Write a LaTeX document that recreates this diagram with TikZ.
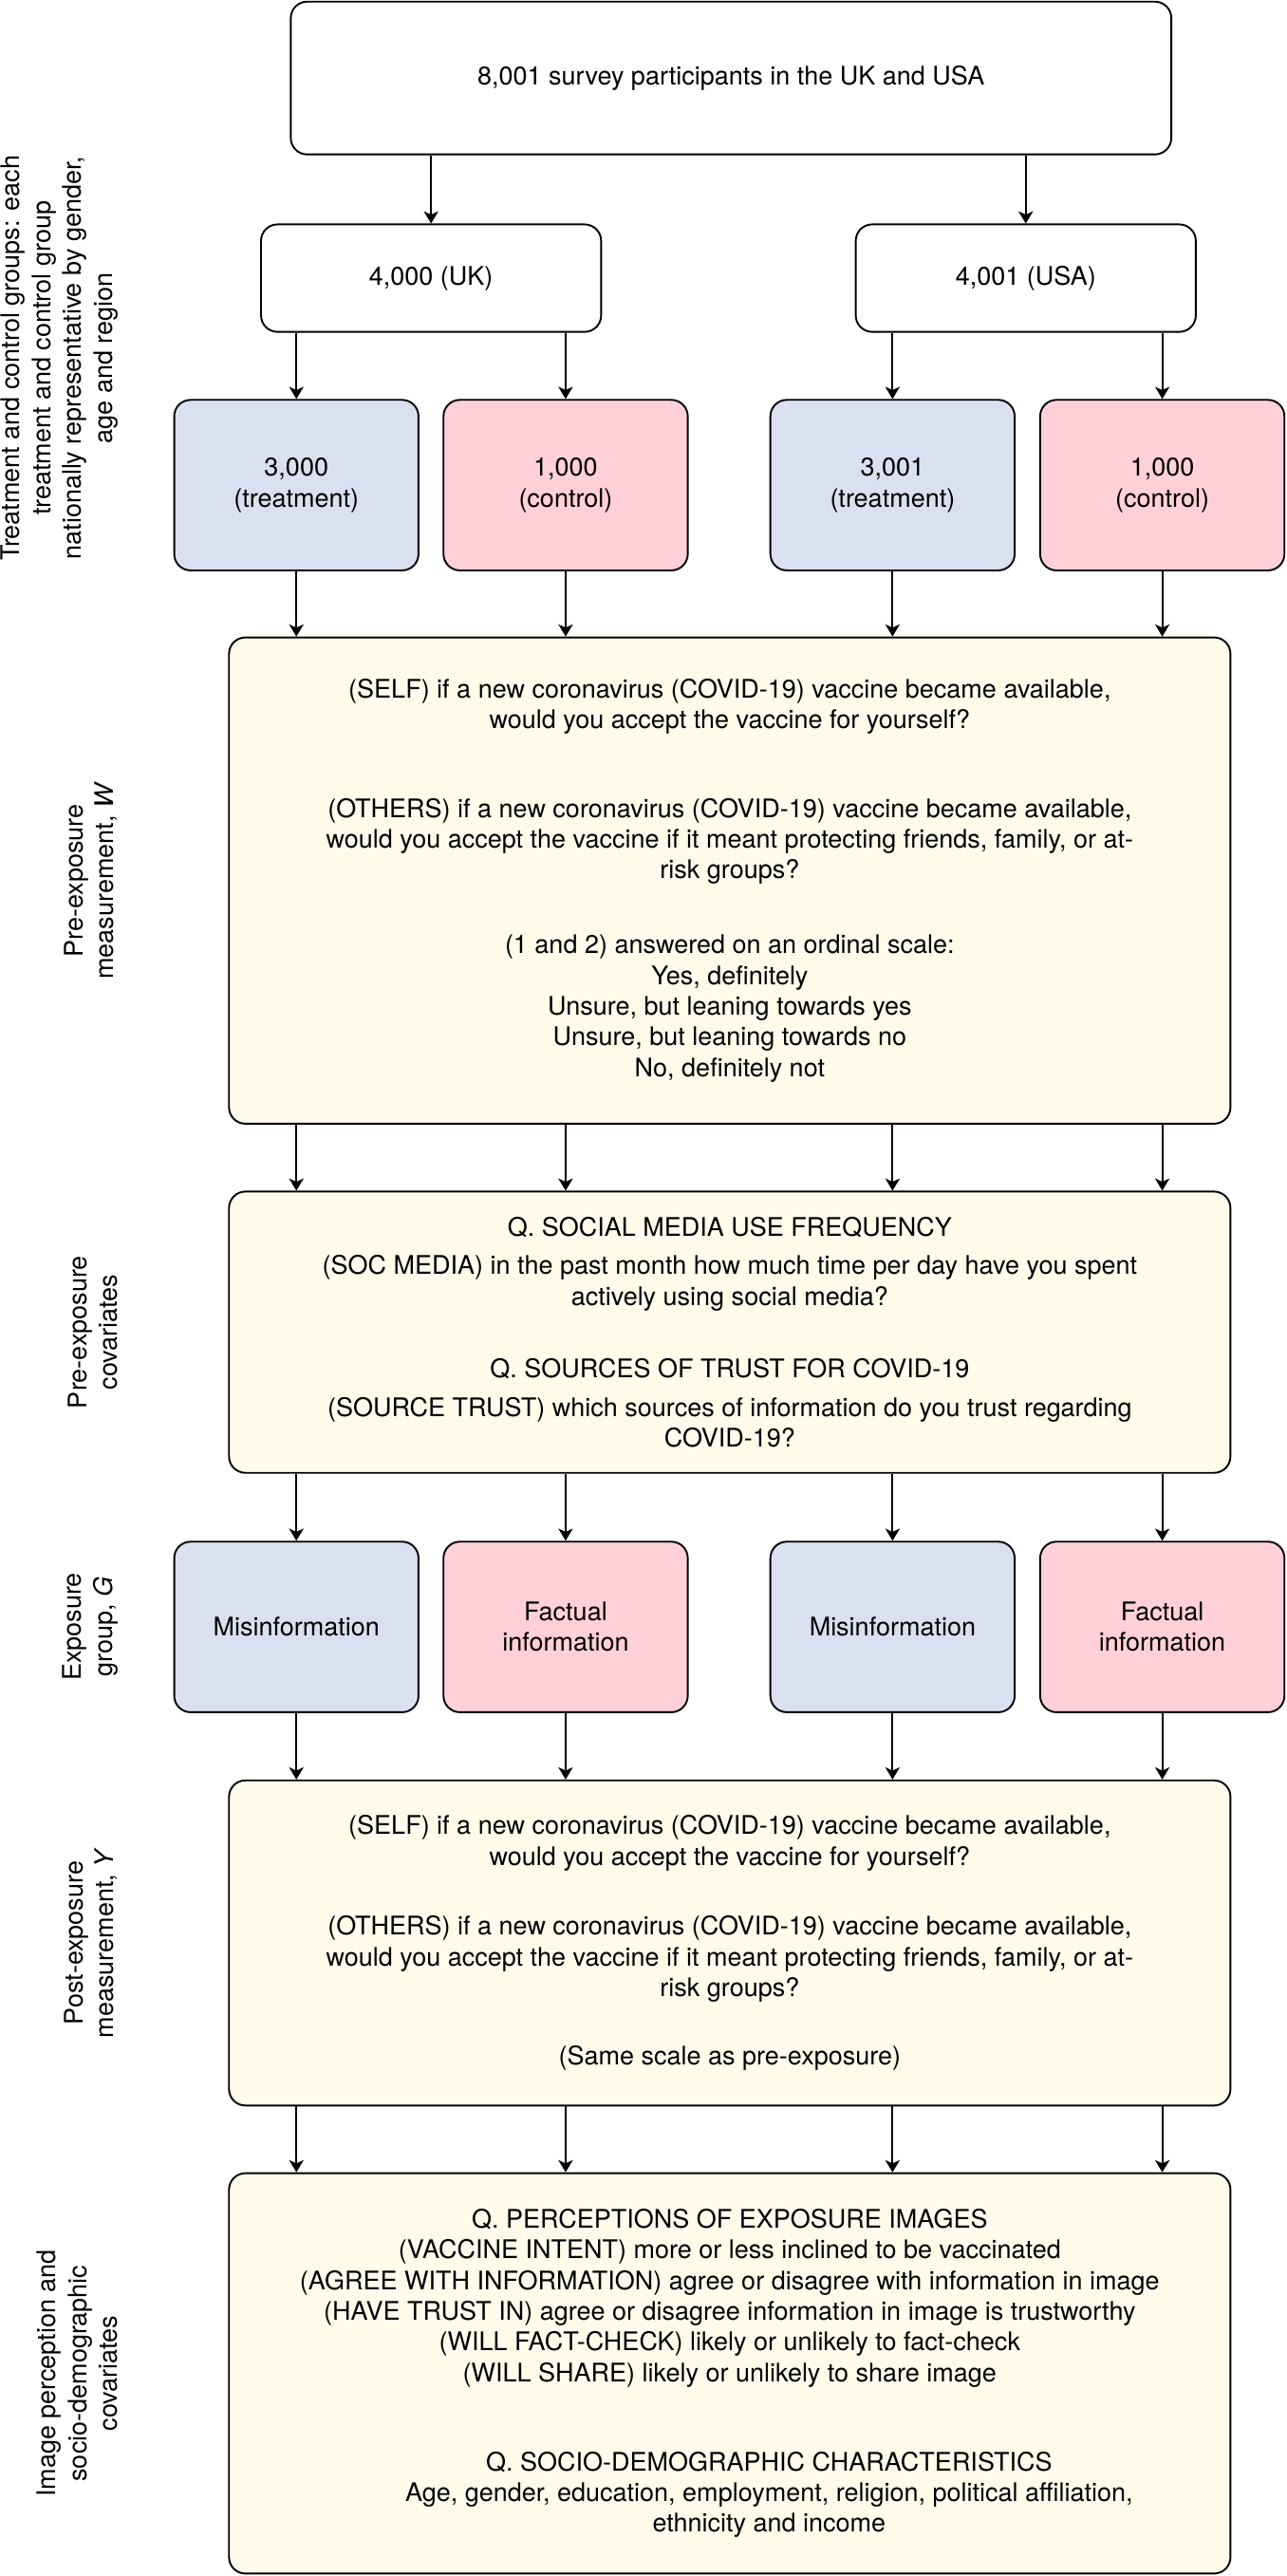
\documentclass[tikz,border=0pt]{standalone}
\usepackage{fontspec}
\setmainfont{TeX Gyre Heros}
\usetikzlibrary{arrows.meta}
\definecolor{treatblue}{HTML}{DAE0EF}
\definecolor{ctrlpink}{HTML}{FFD0D7}
\definecolor{askyellow}{HTML}{FFFBEB}

\begin{document}
\begin{tikzpicture}[x=0.5pt, y=-0.5pt,
             every node/.style = {inner sep=0pt, align=center,
                                  font=\fontsize{7.8}{9.35}\selectfont},
             box/.style={draw, line width=0.55pt, rounded corners=5pt},
             grp/.style={box, minimum width=74.35pt, minimum height=51.9pt},
             treat/.style={grp, fill=treatblue},
             ctrl/.style={grp, fill=ctrlpink},
             ask/.style={box, fill=askyellow, minimum width=304.8pt},
             sidelabel/.style={rotate=90, anchor=south},
             arr/.style={-{Stealth[length=3.7pt, width=4.4pt, inset=1pt]}, line width=0.55pt}]
\useasboundingbox (0,0) rectangle (783,1568);

\node[box, minimum width=268pt, minimum height=46.5pt] (all) at (445,47.5) {8,001 survey participants in the UK and USA};
\node[box, minimum width=103.5pt, minimum height=32.7pt] (uk) at (262.4,169.3) {4,000 (UK)};
\node[box, minimum width=103.5pt, minimum height=32.7pt] (usa) at (624.4,169.3) {4,001 (USA)};

\node[treat] (uktreat) at (180.4,295.3) {3,000\\(treatment)};
\node[ctrl] (ukctrl) at (344.3,295.3) {1,000\\(control)};
\node[treat] (ustreat) at (543.3,295.3) {3,001\\(treatment)};
\node[ctrl] (usctrl) at (707.5,295.3) {1,000\\(control)};

\node[ask, minimum height=148pt] (pre) at (444.2,536) {(SELF) if a new coronavirus (COVID-19) vaccine became available,\\would you accept the vaccine for yourself?\\[17.6pt]
  (OTHERS) if a new coronavirus (COVID-19) vaccine became available,\\would you accept the vaccine if it meant protecting friends, family, or at-\\risk groups?\\[13.4pt]
  (1 and 2) answered on an ordinal scale:\\Yes, definitely\\Unsure, but leaning towards yes\\Unsure, but leaning towards no\\No, definitely not};

\node[ask, minimum height=85.6pt] (cov) at (444.2,810.9) {Q. SOCIAL MEDIA USE FREQUENCY\\[2.4pt]
  (SOC MEDIA) in the past month how much time per day have you spent\\actively using social media?\\[12.7pt]
  Q. SOURCES OF TRUST FOR COVID-19\\[2.4pt]
  (SOURCE TRUST) which sources of information do you trust regarding\\COVID-19?};

\node[treat] (ukmis) at (180.4,990.3) {Misinformation};
\node[ctrl] (ukfact) at (344.3,990.3) {Factual\\information};
\node[treat] (usmis) at (543.3,990.3) {Misinformation};
\node[ctrl] (usfact) at (707.5,990.3) {Factual\\information};

\node[ask, minimum height=98.95pt] (post) at (444.2,1182.65) {(SELF) if a new coronavirus (COVID-19) vaccine became available,\\would you accept the vaccine for yourself?\\[11.9pt]
  (OTHERS) if a new coronavirus (COVID-19) vaccine became available,\\would you accept the vaccine if it meant protecting friends, family, or at-\\risk groups?\\[11.5pt]
  (Same scale as pre-exposure)};

\node[ask, minimum height=121.85pt] (percep) at (444.2,1444.65) {Q. PERCEPTIONS OF EXPOSURE IMAGES\\(VACCINE INTENT) more or less inclined to be vaccinated\\(AGREE WITH INFORMATION) agree or disagree with information in image\\(HAVE TRUST IN) agree or disagree information in image is trustworthy\\(WILL FACT-CHECK) likely or unlikely to fact-check\\(WILL SHARE) likely or unlikely to share image\\[17.8pt]
  \hspace*{24pt}Q. SOCIO-DEMOGRAPHIC CHARACTERISTICS\\\hspace*{24pt}Age, gender, education, employment, religion, political affiliation,\\\hspace*{24pt}ethnicity and income};

\node[sidelabel] (grouplab) at (72,218) {Treatment and control groups: each\\treatment and control group\\nationally representative by gender,\\age and region};
\node[sidelabel] (prelab) at (72,536) {Pre-exposure\\measurement, \textit{W}};
\node[sidelabel] (covlab) at (72,810.9) {Pre-exposure\\covariates};
\node[sidelabel] (explab) at (72,990.3) {Exposure\\group, \textit{G}};
\node[sidelabel] (postlab) at (72,1182.65) {Post-exposure\\measurement, \textit{Y}};
\node[sidelabel] (perceplab) at (72,1444.65) {Image perception and\\socio-demographic\\covariates};

\draw[arr] (all.south -| uk.north) -- (uk.north);
\draw[arr] (all.south -| usa.north) -- (usa.north);
\draw[arr] (uk.south -| uktreat.north) -- (uktreat.north);
\draw[arr] (uk.south -| ukctrl.north) -- (ukctrl.north);
\draw[arr] (usa.south -| ustreat.north) -- (ustreat.north);
\draw[arr] (usa.south -| usctrl.north) -- (usctrl.north);

\draw[arr] (uktreat.south) -- (uktreat.south |- pre.north);
\draw[arr] (ukctrl.south) -- (ukctrl.south |- pre.north);
\draw[arr] (ustreat.south) -- (ustreat.south |- pre.north);
\draw[arr] (usctrl.south) -- (usctrl.south |- pre.north);

\draw[arr] (pre.south -| ukmis.north) -- (cov.north -| ukmis.north);
\draw[arr] (pre.south -| ukfact.north) -- (cov.north -| ukfact.north);
\draw[arr] (pre.south -| usmis.north) -- (cov.north -| usmis.north);
\draw[arr] (pre.south -| usfact.north) -- (cov.north -| usfact.north);

\draw[arr] (cov.south -| ukmis.north) -- (ukmis.north);
\draw[arr] (cov.south -| ukfact.north) -- (ukfact.north);
\draw[arr] (cov.south -| usmis.north) -- (usmis.north);
\draw[arr] (cov.south -| usfact.north) -- (usfact.north);

\draw[arr] (ukmis.south) -- (ukmis.south |- post.north);
\draw[arr] (ukfact.south) -- (ukfact.south |- post.north);
\draw[arr] (usmis.south) -- (usmis.south |- post.north);
\draw[arr] (usfact.south) -- (usfact.south |- post.north);

\draw[arr] (post.south -| ukmis.north) -- (percep.north -| ukmis.north);
\draw[arr] (post.south -| ukfact.north) -- (percep.north -| ukfact.north);
\draw[arr] (post.south -| usmis.north) -- (percep.north -| usmis.north);
\draw[arr] (post.south -| usfact.north) -- (percep.north -| usfact.north);

\end{tikzpicture}
\end{document}
